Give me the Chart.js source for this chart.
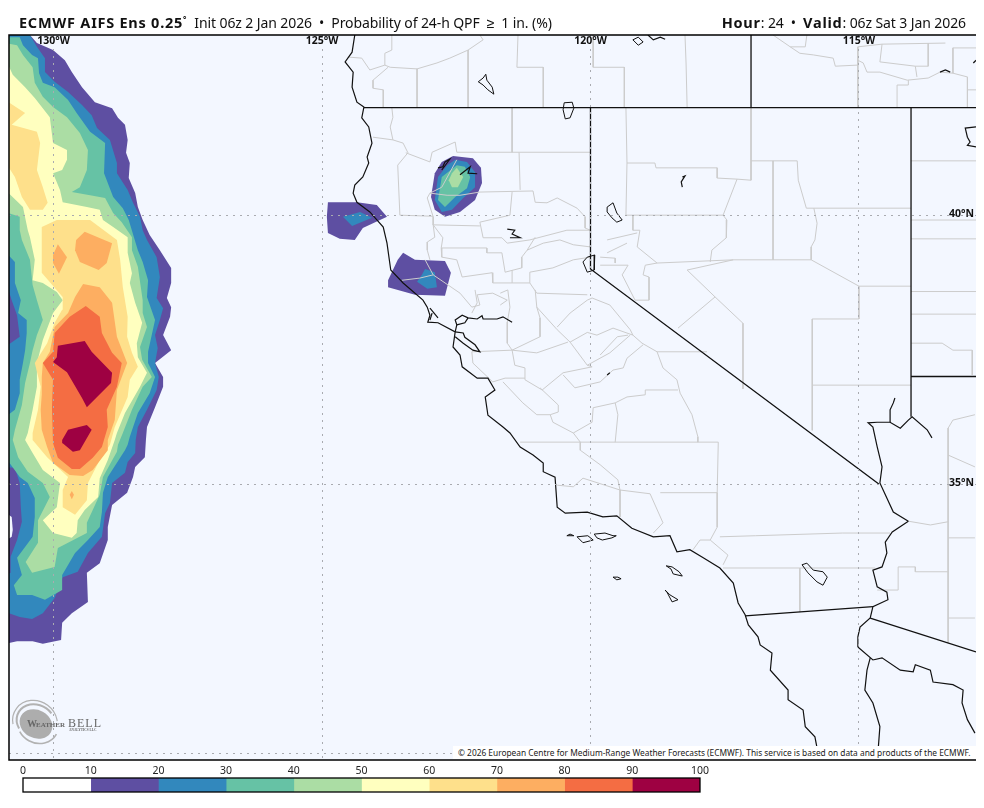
<!DOCTYPE html>
<html>
<head>
<meta charset="utf-8">
<title>ECMWF AIFS Ens</title>
<script src="https://cdn.jsdelivr.net/npm/chart.js@4/dist/chart.umd.min.js"></script>
<style>
  body { margin: 0; background: #fff; width: 984px; height: 808px; position: relative; overflow: hidden; font-family: "Noto Sans", sans-serif; color: #111; }
  canvas { position: absolute; left: 0; display: block; }
  #map { top: 0; }
  #bar { top: 760px; }
  .head { position: absolute; top: 13px; font-size: 14px; line-height: 19px; white-space: nowrap; letter-spacing: -0.1px; }
  #titleLeft { left: 19px; }
  #titleRight { right: 18px; }
  .head b { font-weight: 700; font-size: 14.5px; letter-spacing: 0.75px; }
  .head sup { font-size: 8px; line-height: 0; }
  #credit { position: absolute; left: 453px; top: 746px; width: 523px; height: 13.4px; background: #fff; font-size: 8.36px; line-height: 14px; padding-left: 5px; box-sizing: border-box; white-space: nowrap; color: #222; }
</style>
</head>
<body>
<canvas id="map" width="984" height="762"></canvas>
<canvas id="bar" width="984" height="48"></canvas>
<div class="head" id="titleLeft"><b>ECMWF AIFS Ens 0.25<sup>°</sup></b>&nbsp; Init 06z 2 Jan 2026 &nbsp;•&nbsp; Probability of 24-h QPF &nbsp;≥&nbsp; 1 in. (%)</div>
<div class="head" id="titleRight"><b>Hour</b>: 24 &nbsp;•&nbsp; <b>Valid</b>: 06z Sat 3 Jan 2026</div>
<div id="credit">© 2026 European Centre for Medium-Range Weather Forecasts (ECMWF). This service is based on data and products of the ECMWF.</div>
<script>
// map window, degrees
const lonMin = -130.83, lonMax = -112.82, latMin = 29.87, latMax = 43.35;
const lonTicks = [-130, -125, -120, -115];
const latTicks = [40, 35, 30];
const lonLabels = ["130", "125", "120", "115"];
const latLabels = ["40", "35"];

// colour bar
const binEdges = [0, 10, 20, 30, 40, 50, 60, 70, 80, 90, 100];
const binColors = ["#ffffff", "#5e4fa2", "#3288bd", "#66c2a5", "#abdda4", "#ffffbf", "#fee08b", "#fdae61", "#f46d43", "#9e0142"];

// probability contours, [lon, lat]
const west10 = [[-130.44,43.35],[-130.31,43.20],[-130.01,43.07],[-129.79,42.88],[-129.66,42.66],[-129.47,42.38],[-129.23,42.10],[-128.91,41.99],[-128.80,41.81],[-128.67,41.68],[-128.62,41.40],[-128.65,41.16],[-128.58,40.97],[-128.60,40.69],[-128.48,40.41],[-128.43,40.15],[-128.34,39.91],[-128.21,39.63],[-128.02,39.35],[-127.81,39.02],[-127.81,38.74],[-127.89,38.46],[-127.81,38.29],[-127.83,38.11],[-127.96,37.77],[-127.81,37.49],[-128.11,37.25],[-127.96,36.99],[-127.96,36.81],[-128.11,36.43],[-128.26,36.06],[-128.28,35.82],[-128.30,35.50],[-128.48,35.32],[-128.52,35.13],[-128.63,34.84],[-128.91,34.61],[-128.99,34.20],[-128.99,33.96],[-129.14,33.53],[-129.38,33.35],[-129.36,32.81],[-129.66,32.60],[-129.84,32.42],[-129.86,32.10],[-130.20,32.03],[-130.39,32.08],[-130.68,32.08],[-130.9,32.03],[-130.9,43.35]];
const westGapA = [[-130.9,34.48],[-130.78,34.39],[-130.76,34.15],[-130.78,34.02],[-130.9,33.94]];
const westGapB = [[-130.9,35.04],[-130.8,35.0],[-130.9,34.97]];
const west20 = [[-130.44,43.35],[-130.31,43.13],[-130.16,42.92],[-130.16,42.66],[-129.98,42.48],[-129.73,42.29],[-129.47,42.05],[-129.29,41.86],[-129.19,41.62],[-128.95,41.40],[-128.82,40.97],[-128.82,40.78],[-128.62,40.47],[-128.52,40.23],[-128.39,39.97],[-128.34,39.72],[-128.26,39.54],[-128.08,39.22],[-128.02,38.85],[-128.08,38.46],[-127.96,38.27],[-128.02,38.05],[-128.11,37.77],[-128.06,37.53],[-128.11,37.25],[-128.04,36.99],[-128.08,36.75],[-128.26,36.38],[-128.43,36.06],[-128.47,35.82],[-128.48,35.58],[-128.62,35.41],[-128.67,35.21],[-128.91,35.02],[-128.95,34.65],[-129.04,34.46],[-129.10,34.02],[-129.36,33.72],[-129.55,33.37],[-129.83,33.27],[-129.98,32.88],[-130.20,32.60],[-130.40,32.49],[-130.63,32.53],[-130.9,32.62],[-130.9,33.31],[-130.80,33.35],[-130.80,33.65],[-130.68,33.96],[-130.59,34.30],[-130.61,34.57],[-130.63,35.02],[-130.72,35.30],[-130.9,35.32],[-130.9,37.55],[-130.63,37.74],[-130.68,38.14],[-130.78,38.42],[-130.9,38.79],[-130.9,43.35]];
const west30 = [[-130.9,43.31],[-130.63,43.31],[-130.57,43.16],[-130.40,42.98],[-130.29,42.92],[-130.27,42.64],[-130.20,42.46],[-129.98,42.38],[-129.73,42.14],[-129.57,41.90],[-129.32,41.55],[-129.04,41.34],[-129.06,40.78],[-128.89,40.34],[-128.71,40.13],[-128.60,39.91],[-128.43,39.35],[-128.34,39.13],[-128.24,38.79],[-128.26,38.48],[-128.11,38.05],[-128.24,37.46],[-128.24,37.25],[-128.11,36.99],[-128.21,36.69],[-128.43,36.32],[-128.58,35.88],[-128.62,35.73],[-128.67,35.63],[-128.76,35.49],[-128.99,35.13],[-129.08,34.84],[-129.10,34.48],[-129.14,34.20],[-129.36,33.96],[-129.60,33.72],[-129.84,33.31],[-129.84,33.03],[-130.16,32.85],[-130.40,32.94],[-130.68,32.94],[-130.74,33.12],[-130.59,33.31],[-130.68,33.63],[-130.50,33.87],[-130.39,34.02],[-130.35,34.39],[-130.35,34.74],[-130.48,35.02],[-130.63,35.13],[-130.9,35.50],[-130.9,36.25],[-130.72,36.38],[-130.63,36.69],[-130.63,36.94],[-130.57,37.25],[-130.53,37.49],[-130.50,37.81],[-130.50,38.05],[-130.66,38.18],[-130.61,38.42],[-130.72,38.74],[-130.72,39.13],[-130.9,39.32]];
const west40 = [[-130.9,43.20],[-130.68,43.16],[-130.57,42.98],[-130.39,42.75],[-130.35,42.46],[-130.20,42.20],[-130.01,42.01],[-129.75,41.82],[-129.51,41.53],[-129.36,41.21],[-129.38,40.84],[-129.51,40.52],[-129.66,40.43],[-129.32,40.37],[-129.04,40.32],[-128.89,40.04],[-128.73,39.87],[-128.54,39.59],[-128.54,39.35],[-128.43,39.04],[-128.34,38.42],[-128.34,38.18],[-128.26,37.92],[-128.39,37.55],[-128.35,37.31],[-128.17,36.99],[-128.34,36.81],[-128.54,36.38],[-128.71,35.95],[-128.80,35.73],[-128.82,35.60],[-129.08,35.13],[-129.14,34.80],[-129.38,34.28],[-129.38,34.09],[-129.92,33.81],[-129.98,33.46],[-130.40,33.35],[-130.52,33.55],[-130.29,33.91],[-130.29,34.33],[-130.07,34.76],[-130.20,35.02],[-130.48,35.23],[-130.66,35.50],[-130.76,35.82],[-130.72,36.01],[-130.59,36.47],[-130.53,36.88],[-130.44,37.25],[-130.39,37.49],[-130.31,37.77],[-130.20,38.05],[-130.31,38.42],[-130.39,38.70],[-130.44,39.17],[-130.59,39.54],[-130.63,39.72],[-130.63,39.97],[-130.9,40.06]];
const west50 = [[-130.9,42.92],[-130.76,42.61],[-130.53,42.38],[-130.35,42.18],[-130.07,41.82],[-130.01,41.34],[-129.75,41.21],[-129.75,41.03],[-129.84,40.84],[-130.01,40.78],[-129.88,40.47],[-129.83,40.24],[-129.38,40.15],[-129.14,40.10],[-129.08,39.91],[-128.89,39.78],[-128.62,39.59],[-128.62,39.30],[-128.54,38.92],[-128.58,38.74],[-128.48,38.37],[-128.35,38.00],[-128.45,37.62],[-128.43,37.36],[-128.26,37.07],[-128.39,36.81],[-128.67,36.32],[-128.82,35.95],[-128.86,35.82],[-128.99,35.45],[-129.14,35.11],[-129.17,34.76],[-129.42,34.52],[-129.55,34.33],[-129.57,34.09],[-129.66,34.00],[-130.01,34.09],[-130.20,34.33],[-129.94,34.57],[-129.88,35.02],[-130.20,35.26],[-130.39,35.58],[-130.53,35.82],[-130.48,35.95],[-130.39,36.38],[-130.31,36.81],[-130.31,37.25],[-130.20,37.68],[-130.01,38.18],[-129.83,38.42],[-129.94,38.57],[-130.20,38.74],[-130.39,38.79],[-130.35,39.17],[-130.44,39.59],[-130.48,39.72],[-130.57,40.15],[-130.9,40.47]];
const west60a = [[-130.9,42.14],[-130.53,41.90],[-130.78,41.68],[-130.31,41.55],[-130.25,41.34],[-130.31,40.84],[-130.20,40.52],[-130.11,40.23],[-130.20,40.10],[-130.44,40.10],[-130.59,40.34],[-130.72,40.71],[-130.9,40.99]];
const west60b = [[-129.94,39.91],[-129.32,39.91],[-128.82,39.54],[-128.76,39.17],[-128.71,38.66],[-128.62,38.11],[-128.63,37.74],[-128.54,37.44],[-128.43,37.18],[-128.58,36.94],[-128.62,36.62],[-128.86,36.06],[-128.95,35.73],[-129.14,35.45],[-129.36,35.02],[-129.38,34.70],[-129.60,34.43],[-129.83,34.57],[-129.83,34.89],[-129.73,35.13],[-130.12,35.50],[-130.39,35.82],[-130.39,35.95],[-130.29,36.38],[-130.24,36.81],[-130.35,37.25],[-130.12,37.62],[-129.98,38.00],[-129.84,38.24],[-129.83,38.48],[-130.22,38.93],[-130.22,39.35],[-130.22,39.78]];
const west70a = [[-129.42,39.69],[-128.91,39.48],[-129.01,39.11],[-129.16,38.98],[-129.51,39.13],[-129.60,39.35],[-129.58,39.54]];
const west70b = [[-129.92,39.46],[-129.75,39.22],[-129.90,38.91],[-130.01,39.11],[-130.01,39.26]];
const west70c = [[-129.45,38.72],[-129.14,38.66],[-128.91,38.37],[-128.82,37.74],[-128.63,37.25],[-128.82,36.75],[-128.86,36.19],[-128.99,35.82],[-128.99,35.63],[-129.27,35.26],[-129.45,35.15],[-129.70,35.17],[-130.01,35.39],[-130.12,35.69],[-130.22,36.01],[-130.24,36.38],[-130.22,36.66],[-130.22,36.99],[-130.20,37.25],[-130.07,37.46],[-129.98,37.92],[-129.73,38.18],[-129.60,38.48]];
const west70d = [[-129.66,34.87],[-129.62,34.80],[-129.66,34.72],[-129.70,34.80]];
const west80 = [[-129.40,38.31],[-129.14,38.11],[-129.10,37.81],[-128.91,37.44],[-128.73,37.25],[-128.82,36.81],[-129.01,36.38],[-128.99,36.06],[-129.10,35.69],[-129.27,35.49],[-129.51,35.28],[-129.66,35.28],[-129.92,35.49],[-130.01,35.76],[-130.03,36.43],[-130.01,36.94],[-130.20,37.25],[-130.01,37.46],[-129.98,37.81],[-129.70,38.11]];
const west90a = [[-129.92,37.57],[-129.42,37.66],[-129.29,37.46],[-128.91,37.07],[-128.93,36.88],[-129.38,36.43],[-129.47,36.60],[-129.75,37.08],[-130.01,37.27],[-129.94,37.36]];
const west90b = [[-129.73,36.01],[-129.38,36.10],[-129.29,36.01],[-129.51,35.63],[-129.64,35.60],[-129.83,35.76],[-129.84,35.82]];

const shasta10 = [[-122.56,41.10],[-122.19,41.06],[-122.04,40.88],[-122.02,40.60],[-122.15,40.28],[-122.43,40.06],[-122.71,39.97],[-122.90,40.10],[-122.97,40.34],[-122.90,40.78],[-122.77,40.99]];
const shasta20 = [[-122.52,41.03],[-122.30,40.99],[-122.15,40.80],[-122.15,40.52],[-122.37,40.32],[-122.58,40.10],[-122.77,40.06],[-122.90,40.28],[-122.84,40.71],[-122.67,40.93]];
const shasta30 = [[-122.49,40.93],[-122.34,40.90],[-122.24,40.71],[-122.30,40.50],[-122.52,40.34],[-122.71,40.15],[-122.84,40.28],[-122.77,40.71]];
const shasta40 = [[-122.49,40.88],[-122.37,40.71],[-122.47,40.52],[-122.58,40.52],[-122.64,40.65],[-122.58,40.78]];
const capeA10 = [[-124.89,40.24],[-124.35,40.24],[-123.98,40.19],[-123.79,39.97],[-124.24,39.76],[-124.39,39.54],[-124.67,39.56],[-124.89,39.67],[-124.91,39.97]];
const capeA20 = [[-124.61,39.97],[-124.29,40.06],[-124.07,39.95],[-124.44,39.80]];
const capeB10 = [[-123.49,39.30],[-123.27,39.17],[-122.71,39.15],[-122.60,38.93],[-122.71,38.50],[-123.27,38.52],[-123.77,38.66],[-123.77,38.79],[-123.59,39.17]];
const capeB20 = [[-123.08,39.00],[-122.90,38.94],[-122.86,38.66],[-123.04,38.63],[-123.23,38.76],[-123.14,38.89]];

// coast and rivers
const coast = [[-124.39,43.35],[-124.44,43.03],[-124.57,42.85],[-124.42,42.66],[-124.44,42.38],[-124.35,42.10],[-124.22,42.01],[-124.26,41.81],[-124.13,41.64],[-124.07,41.34],[-124.16,41.08],[-124.13,40.97],[-124.24,40.71],[-124.39,40.56],[-124.42,40.41],[-124.35,40.24],[-124.11,40.06],[-123.86,39.78],[-123.79,39.48],[-123.72,38.98],[-123.49,38.74],[-123.12,38.42],[-123.04,38.29],[-122.99,38.14],[-123.03,38.01],[-122.84,38.0],[-122.52,37.83],[-122.56,37.55],[-122.43,37.40],[-122.39,37.18],[-122.11,36.97],[-121.91,36.97],[-121.78,36.75],[-121.96,36.62],[-121.91,36.28],[-121.63,36.06],[-121.50,35.95],[-121.31,35.69],[-121.07,35.54],[-120.88,35.39],[-120.88,35.23],[-120.66,35.13],[-120.62,34.57],[-120.47,34.46],[-120.06,34.48],[-119.77,34.39],[-119.51,34.41],[-119.23,34.18],[-118.83,34.02],[-118.52,34.04],[-118.39,33.74],[-118.15,33.78],[-117.90,33.63],[-117.59,33.44],[-117.34,33.16],[-117.25,32.79],[-117.12,32.57],[-117.06,32.38],[-116.88,32.16],[-116.84,32.01],[-116.62,31.86],[-116.65,31.54],[-116.32,31.17],[-116.32,30.99],[-116.04,30.80],[-116.00,30.49],[-115.82,30.30],[-115.78,30.09]];
const bayNorth = [[-122.52,37.83],[-122.49,37.96],[-122.52,38.05],[-122.39,38.14],[-122.28,38.09],[-122.11,38.07],[-122.02,38.13],[-122.0,38.07],[-121.74,38.07],[-121.63,38.11],[-121.46,38.01]];
const bayLoop = [[-122.49,37.96],[-122.34,38.0],[-122.28,38.09]];
const baySouth = [[-122.52,37.83],[-122.37,37.81],[-122.34,37.73],[-122.15,37.59],[-122.06,37.46],[-122.19,37.49],[-122.37,37.62],[-122.52,37.74]];
const tomalesA = [[-122.99,38.27],[-122.84,38.09]];
const tomalesB = [[-122.95,38.18],[-122.99,38.05]];
const colorado = [[-114.08,34.31],[-114.36,34.48],[-114.61,35.02],[-114.57,35.32],[-114.66,35.69],[-114.74,36.06],[-114.83,36.14],[-114.66,36.15],[-114.42,36.15],[-114.23,36.04],[-114.08,36.19],[-114.01,36.25],[-113.73,36.01],[-113.64,35.86]];
const mohave = [[-114.42,36.15],[-114.42,36.38],[-114.36,36.51],[-114.33,36.60]];
const coloradoSouth = [[-114.08,34.31],[-114.38,34.11],[-114.51,33.92],[-114.48,33.72],[-114.57,33.46],[-114.74,33.40],[-114.66,33.09],[-114.48,32.99],[-114.46,32.85],[-114.74,32.72],[-114.79,32.51],[-114.98,32.34],[-115.02,32.16],[-115.02,31.97]];
const gulfNorth = [[-115.02,31.97],[-114.74,31.73],[-114.57,31.77],[-114.23,31.54],[-113.99,31.51],[-113.95,31.64],[-113.67,31.54],[-113.62,31.32],[-113.25,31.27],[-113.06,31.17],[-113.08,30.93],[-112.98,30.62],[-112.84,30.37]];
const gulfWest = [[-114.79,31.77],[-114.85,31.54],[-114.89,31.17],[-114.74,30.93],[-114.61,30.49],[-114.64,30.09]];

// state and national borders
const borderOregon = [[-124.22,42],[-112.82,42]];
const borderNevada = [[-120,42],[-120,39],[-114.63,35]];
const borderIdaho = [[-117.01,43.35],[-117.01,42]];
const borderUtah = [[-114.03,42],[-114.03,36.25]];
const borderArizona = [[-114.03,37],[-112.82,37]];
const borderMexicoA = [[-117.12,32.55],[-114.74,32.72]];
const borderMexicoB = [[-114.79,32.51],[-112.82,31.88]];

// lakes and islands
const lakes = [
  [[-121.95,42.62],[-121.93,42.51],[-121.83,42.38],[-121.80,42.25],[-121.91,42.33],[-122.00,42.42],[-122.09,42.48],[-122.00,42.55]],
  [[-120.49,42.09],[-120.34,42.10],[-120.31,41.99],[-120.38,41.81],[-120.47,41.79],[-120.51,41.96]],
  [[-120.06,39.22],[-119.92,39.26],[-119.93,38.98],[-120.06,38.94],[-120.14,39.13]],
  [[-119.69,40.15],[-119.58,40.23],[-119.51,40.04],[-119.41,39.91],[-119.51,39.87],[-119.60,39.95],[-119.69,40.06]],
  [[-119.21,43.26],[-119.11,43.31],[-119.02,43.22],[-119.11,43.16]],
  [[-120.44,34.04],[-120.38,34.07],[-120.31,34.04]],
  [[-120.25,34.02],[-120.05,34.04],[-119.95,33.96],[-120.14,33.91]],
  [[-119.93,34.07],[-119.73,34.09],[-119.58,34.04],[-119.52,34.04],[-119.60,34.00],[-119.78,33.96],[-119.88,34.00]],
  [[-119.58,33.27],[-119.49,33.27],[-119.43,33.24],[-119.51,33.22]],
  [[-118.59,33.48],[-118.48,33.46],[-118.35,33.37],[-118.29,33.29],[-118.46,33.33],[-118.50,33.42]],
  [[-118.61,33.03],[-118.52,32.94],[-118.37,32.85],[-118.48,32.81],[-118.57,32.98]],
  [[-116.06,33.50],[-115.97,33.53],[-115.85,33.40],[-115.67,33.37],[-115.59,33.27],[-115.67,33.12],[-115.78,33.18],[-115.95,33.35]],
];
const lakeTraces = [
  [[-122.84,40.88],[-122.75,40.90],[-122.71,40.99],[-122.62,41.04],[-122.77,40.84]],
  [[-122.43,40.75],[-122.24,40.90],[-122.28,40.78],[-122.11,40.77]],
  [[-121.55,39.74],[-121.41,39.72],[-121.46,39.65],[-121.31,39.58],[-121.50,39.58]],
  [[-118.29,40.71],[-118.24,40.73],[-118.31,40.62],[-118.29,40.52]],
  [[-118.93,43.35],[-118.83,43.26],[-118.70,43.31],[-118.61,43.27]],
  [[-112.82,41.64],[-113.02,41.62],[-112.98,41.45],[-112.93,41.36],[-112.98,41.30],[-112.82,41.27]],
  [[-113.49,42.66],[-113.39,42.70],[-113.30,42.66]],
  [[-112.87,42.83],[-112.82,42.88]],
  [[-119.69,37.03],[-119.64,37.07]],
];

// county lines
const counties = [
  [[-124.52,42.94],[-124.26,42.92],[-124.11,42.70],[-123.83,42.79],[-123.73,42.75],[-123.23,42.72],[-122.86,42.83],[-122.62,42.92],[-122.28,43.07],[-122.00,43.26],[-122.06,43.35]],
  [[-123.83,42.79],[-123.83,43.01],[-123.70,43.07],[-123.70,43.35]],
  [[-123.23,42.72],[-123.23,42]],
  [[-122.28,43.07],[-122.28,42]],
  [[-123.77,42.75],[-124.05,42.51],[-124.05,42.36],[-123.86,42.33],[-123.86,42]],
  [[-121.35,43.35],[-121.37,42.75],[-120.88,42.75],[-120.88,42]],
  [[-119.95,43.35],[-119.95,42.75],[-119.37,42.75],[-119.37,42]],
  [[-118.24,43.35],[-118.22,42.83],[-118.20,42]],
  [[-116.60,43.35],[-116.28,43.13],[-116.00,43.13],[-115.97,43.35]],
  [[-116.28,43.13],[-116.10,43.01],[-115.85,42.98],[-115.48,42.92],[-115.44,42.77],[-115.03,42.79],[-115.02,42.88],[-114.92,42.83],[-114.85,42.66],[-114.61,42.66],[-114.10,42.51],[-113.71,42.55],[-113.49,42.66],[-113.25,42.64],[-112.98,42.57],[-112.98,42]],
  [[-115.02,43.13],[-115.02,42]],
  [[-115.02,43.13],[-114.57,43.18],[-113.39,43.20]],
  [[-113.71,43.20],[-113.71,42.77],[-113.95,42.77],[-113.92,42.57]],
  [[-114.57,43.18],[-114.61,42.85],[-113.95,42.77]],
  [[-114.29,42],[-114.29,42.42],[-114.08,42.42],[-114.08,42.51]],
  [[-112.82,43.11],[-113.25,43.11],[-113.25,42.64]],
  [[-112.98,42.33],[-112.82,42.33]],
  [[-123.70,42],[-123.68,41.82],[-123.73,41.64],[-123.68,41.40],[-123.49,41.34],[-123.40,41.16],[-123.59,40.93],[-123.55,40]],
  [[-124.05,41.45],[-123.68,41.40]],
  [[-123.44,41.16],[-122.99,40.99],[-122.95,41.17],[-122.52,41.36],[-122.49,41.17],[-121.33,41.17],[-120,41.17]],
  [[-121.46,42],[-121.46,41.17]],
  [[-121.33,41.17],[-121.31,40.47]],
  [[-122.99,40.41],[-122.67,40.37],[-122.43,40.37],[-122.06,40.43],[-121.07,40.45],[-121.03,40.24],[-120.81,40.23],[-120.62,40.32],[-120.25,40.13],[-120.10,39.97],[-120.10,39.76],[-120,39.72]],
  [[-122.49,41.03],[-122.77,40.52],[-122.99,40.41],[-123.04,40.32],[-122.93,39.97],[-122.93,39.82],[-122.90,39.59],[-123.04,39.50],[-123.04,39.35],[-122.99,39.17]],
  [[-123.55,40],[-122.93,39.98]],
  [[-122.93,39.82],[-122.06,39.80]],
  [[-122.93,39.82],[-122.75,39.58],[-122.78,39.39],[-121.93,39.39]],
  [[-122.06,39.87],[-121.50,40.0],[-121.46,40.43]],
  [[-122.06,39.87],[-122.00,39.58],[-121.65,39.58],[-121.55,39.48],[-121.13,39.54],[-120.44,39.72],[-120,39.72]],
  [[-121.93,39.39],[-121.93,39.30],[-121.65,39.30],[-121.59,38.94]],
  [[-121.03,39.59],[-121.18,39.35],[-121.28,39.22],[-121.28,39.02],[-121.59,38.94]],
  [[-121.18,39.35],[-120.88,39.48],[-120.57,39.54],[-120.32,39.45],[-120,39.41]],
  [[-122.78,39.39],[-122.77,39.22],[-122.49,39.17],[-122.39,38.85],[-121.83,38.93],[-121.82,38.74],[-121.46,38.74],[-121.13,38.74],[-121.0,38.55],[-120.06,38.52]],
  [[-121.46,38.74],[-121.46,38.98]],
  [[-121.13,38.74],[-121.13,38.94],[-120.70,39.02],[-120.32,39.17],[-120,39.22]],
  [[-123.08,39.17],[-122.93,38.89],[-122.65,38.70],[-122.43,38.55],[-122.21,38.29],[-122.06,38.33],[-122.11,38.52],[-121.82,38.55],[-121.55,38.42],[-121.68,38.33]],
  [[-123.51,38.79],[-123.18,38.83],[-122.93,38.89]],
  [[-122.15,38.61],[-122.11,38.37],[-122.21,38.18]],
  [[-121.68,38.55],[-121.54,38.61],[-121.50,38.29],[-121.55,38.01],[-121.55,37.62],[-121.46,37.49]],
  [[-121.03,38.61],[-121.0,38.29],[-120.94,38.09],[-120.94,37.74],[-121.46,37.49],[-121.41,37.21],[-121.22,37.16]],
  [[-121.0,38.29],[-120.62,37.87],[-120.38,37.64],[-120.06,37.21]],
  [[-120.42,37.64],[-121.0,37.44],[-121.46,37.49]],
  [[-120.62,37.92],[-120.38,38.18],[-120.06,38.42],[-119.97,38.46],[-119.64,38.33],[-119.26,37.87],[-119.21,37.77],[-119.04,37.62],[-118.76,37.46],[-117.83,37.46]],
  [[-120.38,37.64],[-120.06,37.82],[-119.88,37.77],[-119.58,37.90],[-119.21,37.77]],
  [[-120.06,37.21],[-119.64,37.44],[-119.26,37.77]],
  [[-120.06,37.21],[-119.97,37.18],[-120.51,37.07],[-120.90,36.75],[-121.22,36.94],[-121.22,37.16]],
  [[-119.02,37.59],[-119.32,37.34],[-119.39,37.16],[-119.58,37.12],[-119.82,36.90],[-120.29,36.79],[-120.51,37.03]],
  [[-121.22,36.97],[-121.59,36.97],[-121.82,36.90],[-122.19,37.25],[-122.21,37.46],[-121.46,37.49]],
  [[-121.63,36.90],[-121.26,36.51],[-121.0,36.29],[-120.75,36.29],[-120.60,36.34],[-120.60,36.47],[-120.94,36.79]],
  [[-120.75,36.29],[-120.70,36.15],[-120.32,35.95],[-120.19,35.78],[-120.19,35.63],[-119.82,35.36],[-119.49,35.08],[-119.45,34.89],[-118.89,34.82],[-118.65,34.28],[-118.83,34.09]],
  [[-120.32,35.95],[-119.97,36.15],[-119.95,36.42],[-119.54,36.51],[-119.32,36.62],[-118.98,36.66],[-118.98,36.75],[-118.37,36.75]],
  [[-119.54,36.51],[-119.49,36.29],[-119.54,35.78]],
  [[-121.31,35.78],[-117.62,35.78]],
  [[-120.62,34.98],[-120.32,34.95],[-120.14,35.11],[-119.45,34.89]],
  [[-119.45,34.89],[-119.45,34.39]],
  [[-118.76,37.46],[-118.65,37.16],[-118.39,36.94],[-118.33,36.69],[-118.11,36.29],[-118.0,35.88],[-118.0,35.78]],
  [[-117.62,35.78],[-117.64,34.84],[-118.70,34.84]],
  [[-117.64,34.84],[-117.64,34.20],[-117.77,33.96],[-117.44,33.68],[-117.53,33.50]],
  [[-117.77,33.96],[-117.96,33.96],[-118.09,33.78]],
  [[-117.59,34.02],[-116.93,34.04],[-115.31,34.09],[-114.42,34.09]],
  [[-117.53,33.44],[-116.06,33.44],[-114.70,33.44]],
  [[-116.10,33.44],[-116.10,32.62]],
  [[-119.34,42],[-119.32,40.97],[-119.34,40],[-117.53,40]],
  [[-119.32,40.97],[-118.80,40.97],[-118.78,40.88],[-117.64,40.88],[-117.64,40.69],[-117.27,40.67],[-117.53,40]],
  [[-117.01,42],[-117.01,40.65],[-117.27,40.67]],
  [[-117.01,41.01],[-116.15,41.01],[-116.13,40.65],[-115.98,40.13],[-114.03,40.13]],
  [[-116.60,41.01],[-116.60,39.17]],
  [[-115.84,40.13],[-115.78,39.85],[-115.82,39.54],[-115.89,39.41],[-115.89,39.17],[-117.34,39.17],[-118.20,38.98],[-117.68,38.48],[-117.16,37.99],[-117.16,36.77]],
  [[-115.89,39.17],[-115,38.68],[-114.03,38.68]],
  [[-115,38.68],[-115,38.07],[-115.87,38.07],[-115.87,36.0]],
  [[-115.87,36.84],[-114.03,36.84]],
  [[-117.53,40],[-117.46,39.91],[-117.47,39.58],[-117.74,39.35],[-117.77,39.13]],
  [[-119.21,40],[-119.21,39.72],[-119.08,39.72],[-119.13,39.41],[-118.76,39.11],[-117.34,39.17]],
  [[-118.76,39.11],[-118.98,39.07],[-119.02,38.89],[-118.91,38.85],[-118.91,38.42],[-119.17,38.42],[-119.41,38.89],[-119.30,39.07],[-119.82,39.07]],
  [[-119.69,39.54],[-119.13,39.67]],
  [[-119.69,39.30],[-119.32,39.48]],
  [[-119.82,39.22],[-119.54,39.20],[-119.54,39.11]],
  [[-117.68,38.48],[-118.37,37.90]],
  [[-119.82,37.40],[-119.50,37.74],[-119.30,37.77]],
  [[-114.03,41.01],[-112.82,41.01]],
  [[-114.03,39.91],[-112.82,39.91]],
  [[-114.03,39.56],[-112.82,39.56]],
  [[-114.03,38.58],[-112.82,38.58]],
  [[-114.03,38.16],[-112.82,38.16]],
  [[-114.03,37.62],[-113.45,37.62],[-113.25,37.49],[-112.89,37.49],[-112.89,37.03]],
  [[-113.34,36.04],[-113.25,36.19],[-112.84,36.29]],
  [[-113.34,36.04],[-113.34,32.05]],
  [[-113.34,35.54],[-112.84,35.32]],
  [[-113.34,34.0],[-112.84,34.0]],
  [[-113.34,32.51],[-112.84,32.51]],
  [[-114.08,34.31],[-113.67,34.24],[-113.34,34.30]],
  [[-114.66,33.03],[-114.27,33.03],[-114.27,33.46],[-113.95,33.46],[-113.95,33.37],[-113.34,33.37]],
];

const toPoints = (list) => list.map(([x, y]) => ({ x, y }));
const closed = (list) => [...list, list[0]];

function lineSet(list, color, width) {
  return { data: toPoints(list), borderColor: color, borderWidth: width, pointRadius: 0, fill: false, tension: 0 };
}

function fillSet(list, color) {
  return { data: toPoints(list), backgroundColor: color, borderColor: "transparent", borderWidth: 0, pointRadius: 0, fill: "shape", tension: 0 };
}

const sea = "#f3f7ff";
const blackLines = [
  ...[borderOregon, borderNevada, borderIdaho, borderUtah, borderArizona, borderMexicoA, borderMexicoB].map((l) => lineSet(l, "#111", 1.3)),
  ...[coast, colorado, coloradoSouth, gulfNorth, gulfWest, bayNorth, bayLoop, baySouth, tomalesA, tomalesB, mohave].map((l) => lineSet(l, "#111", 1.2)),
  ...lakes.map((l) => lineSet(closed(l), "#111", 1)),
  ...lakeTraces.map((l) => lineSet(l, "#111", 1.2)),
];
const countyLines = counties.map((l) => lineSet(l, "#cccccc", 1));

// first in the list paints on top
const fills = [
  ...[west90a, west90b].map((l) => fillSet(l, binColors[9])),
  fillSet(west80, binColors[8]),
  ...[west70a, west70b, west70c, west70d].map((l) => fillSet(l, binColors[7])),
  ...[west60a, west60b].map((l) => fillSet(l, binColors[6])),
  fillSet(west50, binColors[5]),
  ...[west40, shasta40].map((l) => fillSet(l, binColors[4])),
  ...[west30, shasta30].map((l) => fillSet(l, binColors[3])),
  ...[west20, shasta20, capeA20, capeB20].map((l) => fillSet(l, binColors[2])),
  ...[westGapA, westGapB].map((l) => fillSet(l, sea)),
  ...[west10, shasta10, capeA10, capeB10].map((l) => fillSet(l, binColors[1])),
];

// the swirl and name in the lower left corner
function drawLogo(ctx) {
  ctx.save();
  ctx.fillStyle = "#adadad";
  ctx.beginPath();
  ctx.ellipse(36, 724, 17, 14, 0.5, 0, Math.PI * 2);
  ctx.fill();
  ctx.strokeStyle = "#b2b2b2";
  ctx.lineWidth = 2;
  ctx.beginPath();
  ctx.ellipse(36, 722, 20, 17, 0.5, 2.2, 5.2);
  ctx.stroke();
  ctx.lineWidth = 1.2;
  ctx.beginPath();
  ctx.ellipse(35, 722, 23, 21, 0.6, 2.4, 5.6);
  ctx.stroke();
  ctx.lineWidth = 1.6;
  ctx.beginPath();
  ctx.ellipse(38, 724, 21, 19, 0.5, 0.0, 2.2);
  ctx.stroke();
  ctx.fillStyle = "#666";
  ctx.textAlign = "left";
  ctx.textBaseline = "alphabetic";
  ctx.font = 'bold 10px "Liberation Serif"';
  ctx.fillText("W", 27, 727);
  ctx.font = 'bold 7px "Liberation Serif"';
  ctx.fillText("EATHER", 36, 727);
  ctx.font = '12px "Liberation Serif"';
  ctx.letterSpacing = "1px";
  ctx.fillText("BELL", 68, 727);
  ctx.letterSpacing = "0px";
  ctx.font = 'bold 3.4px "Liberation Serif"';
  ctx.fillText("ANALYTICS LLC", 69, 731);
  ctx.restore();
}

const mapDecor = {
  id: "mapDecor",
  beforeDraw(chart) {
    const { ctx, chartArea: a } = chart;
    ctx.save();
    ctx.fillStyle = sea;
    ctx.fillRect(a.left, a.top, a.right - a.left, a.bottom - a.top);
    ctx.restore();
  },
  afterDraw(chart) {
    const { ctx, chartArea: a, scales } = chart;
    drawLogo(ctx);
    ctx.save();
    ctx.fillStyle = "#111";
    ctx.font = '700 10.5px "Noto Sans"';
    ctx.textBaseline = "middle";
    ctx.textAlign = "center";
    lonLabels.forEach((label, i) => {
      ctx.fillText(label + "°W", scales.x.getPixelForValue(lonTicks[i]), a.top + 6);
    });
    ctx.textAlign = "right";
    latLabels.forEach((label, i) => {
      ctx.fillText(label + "°N", a.right - 2, scales.y.getPixelForValue(latTicks[i]) - 1);
    });
    ctx.strokeStyle = "#000";
    ctx.lineWidth = 1.5;
    ctx.beginPath();
    ctx.moveTo(a.right, a.top);
    ctx.lineTo(a.left, a.top);
    ctx.lineTo(a.left, a.bottom);
    ctx.lineTo(a.right, a.bottom);
    ctx.stroke();
    ctx.restore();
  },
};

const barFrame = {
  id: "barFrame",
  afterDraw(chart) {
    const { ctx, chartArea: a } = chart;
    ctx.save();
    ctx.strokeStyle = "#000";
    ctx.lineWidth = 1.3;
    ctx.strokeRect(a.left, a.top, a.right - a.left, a.bottom - a.top);
    ctx.restore();
  },
};

new Chart(document.getElementById("map"), {
  type: "line",
  data: { datasets: [...blackLines, ...countyLines, ...fills] },
  plugins: [mapDecor],
  options: {
    responsive: false,
    animation: false,
    events: [],
    layout: { padding: { left: 9, right: 8, top: 35, bottom: 2 } },
    plugins: { legend: { display: false }, tooltip: { enabled: false } },
    scales: {
      x: {
        type: "linear",
        min: lonMin,
        max: lonMax,
        afterBuildTicks: (scale) => { scale.ticks = lonTicks.map((value) => ({ value })); },
        ticks: { display: false },
        grid: { color: "#a9abb0", drawTicks: false, z: 1, lineWidth: 1 },
        border: { display: false, dash: [2, 5] },
      },
      y: {
        type: "linear",
        min: latMin,
        max: latMax,
        afterBuildTicks: (scale) => { scale.ticks = latTicks.map((value) => ({ value })); },
        ticks: { display: false },
        grid: { color: "#a9abb0", drawTicks: false, z: 1, lineWidth: 1 },
        border: { display: false, dash: [2, 5] },
      },
    },
  },
});

new Chart(document.getElementById("bar"), {
  type: "bar",
  data: {
    labels: [""],
    datasets: binColors.map((color, i) => ({
      data: [binEdges[i + 1] - binEdges[i]],
      backgroundColor: color,
      borderWidth: 0,
      barPercentage: 1,
      categoryPercentage: 1,
    })),
  },
  plugins: [barFrame],
  options: {
    indexAxis: "y",
    responsive: false,
    animation: false,
    events: [],
    layout: { padding: { left: 23, right: 284, top: 0, bottom: 16 } },
    plugins: { legend: { display: false }, tooltip: { enabled: false } },
    scales: {
      x: {
        position: "top",
        stacked: true,
        min: binEdges[0],
        max: binEdges[binEdges.length - 1],
        afterBuildTicks: (scale) => { scale.ticks = binEdges.map((value) => ({ value })); },
        afterFit: (scale) => { scale.height = 18; },
        grid: { display: false, drawTicks: false },
        border: { display: false },
        ticks: { autoSkip: false, maxRotation: 0, padding: 1, color: "#222", font: { family: "Noto Sans", size: 10.5 } },
      },
      y: { stacked: true, display: false },
    },
  },
});
</script>
</body>
</html>
